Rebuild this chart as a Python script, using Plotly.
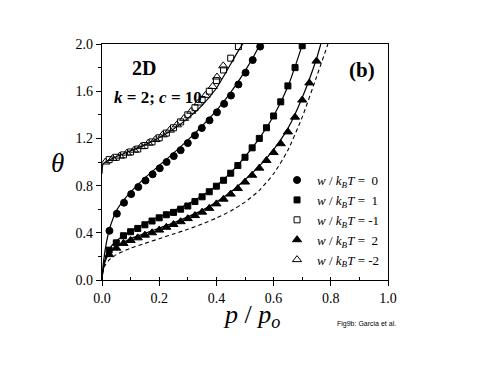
import plotly.graph_objects as go

# ---------------- data ----------------
# w/kBT = 0 (filled circles)
p_w0 = [0.026, 0.052, 0.077, 0.102, 0.127, 0.152, 0.177, 0.202, 0.226, 0.251, 0.275,
        0.300, 0.325, 0.349, 0.376, 0.402, 0.427, 0.451, 0.477, 0.502, 0.527, 0.553]
t_w0 = [0.417, 0.562, 0.655, 0.728, 0.788, 0.843, 0.896, 0.947, 1.000, 1.050, 1.100,
        1.160, 1.225, 1.288, 1.353, 1.421, 1.493, 1.563, 1.657, 1.757, 1.864, 1.978]

# w/kBT = 1 (filled squares)
p_w1 = [0.025, 0.05, 0.075, 0.10, 0.125, 0.15, 0.175, 0.20, 0.225, 0.25, 0.275, 0.30, 0.325, 0.35,
        0.375, 0.40, 0.425, 0.45, 0.475, 0.50, 0.525, 0.55, 0.575, 0.60, 0.625, 0.65, 0.675, 0.70]
t_w1 = [0.253, 0.315, 0.375, 0.409, 0.437, 0.468, 0.500, 0.527, 0.553, 0.573, 0.600, 0.627, 0.665, 0.705,
        0.748, 0.795, 0.845, 0.905, 0.970, 1.040, 1.120, 1.200, 1.290, 1.390, 1.510, 1.645, 1.800, 1.985]

# w/kBT = -1 (open squares)
p_wm1 = [0.025, 0.05, 0.075, 0.10, 0.125, 0.15, 0.175, 0.20, 0.225, 0.25, 0.275, 0.30, 0.325,
         0.35, 0.375, 0.40, 0.425, 0.45, 0.477]
t_wm1 = [1.020, 1.040, 1.060, 1.085, 1.110, 1.140, 1.170, 1.205, 1.245, 1.290, 1.340, 1.400, 1.460,
         1.530, 1.600, 1.690, 1.780, 1.880, 1.978]

# w/kBT = 2 (filled triangles)
p_w2 = [0.025, 0.05, 0.075, 0.10, 0.125, 0.15, 0.175, 0.20, 0.225, 0.25, 0.275, 0.30, 0.325, 0.35, 0.375,
        0.40, 0.425, 0.45, 0.475, 0.50, 0.525, 0.55, 0.575, 0.60, 0.625, 0.65, 0.675, 0.70, 0.725, 0.75]
t_w2 = [0.215, 0.270, 0.310, 0.335, 0.357, 0.380, 0.400, 0.423, 0.447, 0.470, 0.494, 0.520, 0.546, 0.575, 0.607,
        0.645, 0.685, 0.728, 0.775, 0.830, 0.888, 0.948, 1.013, 1.080, 1.155, 1.255, 1.380, 1.525, 1.670, 1.855]

# w/kBT = -2 (open triangles)
p_wm2 = [0.012, 0.037, 0.062, 0.087, 0.112, 0.137, 0.162, 0.187, 0.212, 0.237, 0.262, 0.287,
         0.312, 0.337, 0.362, 0.387, 0.402, 0.424]
t_wm2 = [1.000, 1.030, 1.050, 1.075, 1.100, 1.130, 1.160, 1.190, 1.230, 1.270, 1.315, 1.370,
         1.430, 1.500, 1.565, 1.640, 1.720, 1.815]

# theoretical curves (solid) and reference curve (dashed)
p_fit_neg = [0.0, 0.004, 0.02, 0.05, 0.10, 0.15, 0.20, 0.25, 0.30, 0.35, 0.40, 0.45, 0.475, 0.497]
t_fit_neg = [0.90, 0.985, 1.010, 1.045, 1.095, 1.145, 1.205, 1.280, 1.370, 1.480, 1.625, 1.830, 1.935, 2.02]

p_fit_0 = [0.0, 0.005, 0.012, 0.026, 0.05, 0.075, 0.10, 0.15, 0.20, 0.25, 0.30, 0.35, 0.40, 0.45, 0.50, 0.55, 0.56]
t_fit_0 = [0.02, 0.15, 0.27, 0.43, 0.585, 0.675, 0.745, 0.865, 0.970, 1.075, 1.185, 1.305, 1.435, 1.590, 1.770, 1.985, 2.04]

p_fit_1 = [0.0, 0.01, 0.025, 0.05, 0.10, 0.15, 0.20, 0.25, 0.30, 0.35, 0.40, 0.45, 0.50, 0.55, 0.60, 0.65, 0.70, 0.705]
t_fit_1 = [0.02, 0.17, 0.26, 0.33, 0.415, 0.478, 0.537, 0.588, 0.643, 0.715, 0.800, 0.910, 1.045, 1.200, 1.390, 1.640, 1.990, 2.03]

p_fit_2 = [0.0, 0.01, 0.025, 0.05, 0.10, 0.15, 0.20, 0.25, 0.30, 0.35, 0.40, 0.45, 0.50, 0.55, 0.60, 0.65, 0.70, 0.75, 0.765]
t_fit_2 = [0.02, 0.15, 0.225, 0.285, 0.350, 0.395, 0.440, 0.485, 0.535, 0.590, 0.660, 0.745, 0.850, 0.965, 1.105, 1.285, 1.545, 1.875, 2.0]

p_dash = [0.0, 0.01, 0.025, 0.05, 0.10, 0.15, 0.20, 0.25, 0.30, 0.35, 0.40, 0.45, 0.50, 0.55, 0.60, 0.65, 0.70, 0.75, 0.79]
t_dash = [0.05, 0.12, 0.17, 0.215, 0.270, 0.310, 0.350, 0.390, 0.430, 0.475, 0.525, 0.585, 0.660, 0.760, 0.900, 1.100, 1.380, 1.720, 2.0]

x_ticks = [0.0, 0.2, 0.4, 0.6, 0.8, 1.0]
y_ticks = [0.0, 0.4, 0.8, 1.2, 1.6, 2.0]

legend_names = ["0", "1", "-1", "2", "-2"]

# ---------------- figure ----------------
SERIF = "Liberation Serif, Times New Roman, serif"
fig = go.Figure()

line_style = dict(color="black", width=1.2, shape="spline", smoothing=0.6)
for px, ty in [(p_fit_neg, t_fit_neg), (p_fit_0, t_fit_0), (p_fit_1, t_fit_1), (p_fit_2, t_fit_2)]:
    fig.add_trace(go.Scatter(x=px, y=ty, mode="lines", line=line_style,
                             showlegend=False, hoverinfo="skip"))
fig.add_trace(go.Scatter(x=p_dash, y=t_dash, mode="lines",
                         line=dict(color="black", width=1.1, dash="4px,3px", shape="spline", smoothing=0.6),
                         showlegend=False, hoverinfo="skip"))

def lab(v):
    sp = "&nbsp;" if not v.startswith("-") else ""
    return f"<i>w</i> / <i>k</i><sub><i>B</i></sub><i>T</i> ={sp} {v}"

series = [
    (p_w0, t_w0, "circle", 7, legend_names[0]),
    (p_w1, t_w1, "square", 6, legend_names[1]),
    (p_wm1, t_wm1, "square-open", 6, legend_names[2]),
    (p_w2, t_w2, "triangle-up", 8, legend_names[3]),
    (p_wm2, t_wm2, "triangle-up-open", 8, legend_names[4]),
]
for px, ty, sym, sz, nm in series:
    fig.add_trace(go.Scatter(x=px, y=ty, mode="markers", name=lab(nm),
                             marker=dict(symbol=sym, size=sz, color="black",
                                         line=dict(color="black", width=1))))

# page has an 8px body margin: figure spans window px 8..491 / 8..379
W, H = 483, 371
ML, MR, MT, MB = 94, 103, 36, 99
fig.update_layout(
    width=W, height=H,
    margin=dict(l=ML, r=MR, t=MT, b=MB),
    paper_bgcolor="white", plot_bgcolor="white",
    font=dict(family=SERIF, color="black", size=13),
    showlegend=True,
    legend=dict(x=0.612, y=0.487, xanchor="left", yanchor="top",
                bgcolor="rgba(0,0,0,0)", font=dict(family=SERIF, size=13),
                itemwidth=30, tracegroupgap=0),
)
fig.update_xaxes(range=[0, 1.0], tickvals=x_ticks, ticktext=[f"{v:.1f}" for v in x_ticks],
                 showgrid=False, zeroline=False, showline=True, linecolor="black", linewidth=1.3,
                 mirror=True, ticks="outside", ticklen=5, tickwidth=1.2, tickcolor="black",
                 tickfont=dict(family=SERIF, size=14),
                 minor=dict(dtick=0.1, ticks="inside", ticklen=3, tickwidth=1, tickcolor="black", showgrid=False))
fig.update_yaxes(range=[0, 2.0], tickvals=y_ticks, ticktext=[f"{v:.1f}" for v in y_ticks],
                 showgrid=False, zeroline=False, showline=True, linecolor="black", linewidth=1.3,
                 mirror=True, ticks="outside", ticklen=5, tickwidth=1.2, tickcolor="black",
                 tickfont=dict(family=SERIF, size=14),
                 minor=dict(dtick=0.2, ticks="outside", ticklen=3, tickwidth=1, tickcolor="black", showgrid=False))

# window-pixel -> paper coordinates
X0, Y0 = 8 + ML, 8 + MT
PW, PH = W - ML - MR, H - MT - MB
def px2paper(x, y):
    return (x - X0) / PW, 1 - (y - Y0) / PH

ann = [
    ("<i>θ</i>", 57, 163, 27),
    ("<i>p</i> / <i>p</i><sub><i>o</i></sub>", 251, 316, 26),
    ("<b>2D</b>", 144, 68, 20),
    ("<b><i>k</i> = 2; <i>c</i> = 10</b>", 158, 97, 17),
    ("<b>(b)</b>", 362, 70, 21),
]
for text, x, y, size in ann:
    ax, ay = px2paper(x, y)
    fig.add_annotation(text=text, xref="paper", yref="paper", x=ax, y=ay,
                       xanchor="center", yanchor="middle", showarrow=False,
                       font=dict(family=SERIF, size=size, color="black"))
ax, ay = px2paper(366, 324)
fig.add_annotation(text="Fig9b: Garcia et al.", xref="paper", yref="paper", x=ax, y=ay,
                   xanchor="center", yanchor="middle", showarrow=False,
                   font=dict(family="Liberation Sans, Arial, sans-serif", size=7, color="black"))

fig.write_html("out.html")
